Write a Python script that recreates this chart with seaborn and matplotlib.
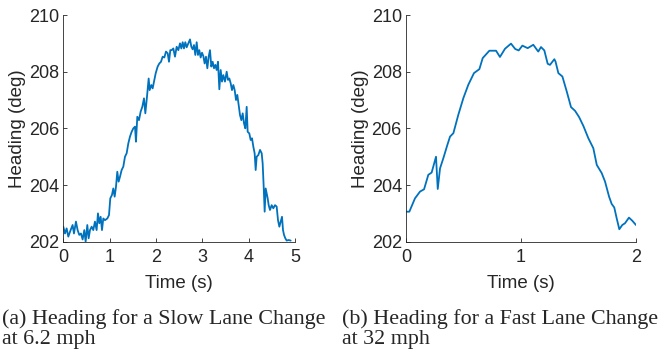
import numpy as np
import pandas as pd
import matplotlib
matplotlib.use("Agg")
from matplotlib import pyplot as plt
import seaborn as sns

# slow lane change (6.2 mph)
slow_t = [0, 0.036, 0.072, 0.108, 0.158, 0.201, 0.23, 0.273, 0.309, 0.345, 0.381, 0.417,
          0.453, 0.482, 0.518, 0.547, 0.576, 0.612, 0.647, 0.683, 0.719, 0.748, 0.777,
          0.806, 0.835, 0.863, 0.899, 0.95, 0.986, 1.014, 1.05, 1.079, 1.108, 1.137,
          1.165, 1.194, 1.223, 1.259, 1.295, 1.331, 1.367, 1.403, 1.439, 1.475, 1.511,
          1.547, 1.568, 1.597, 1.633, 1.669, 1.705, 1.741, 1.77, 1.806, 1.842, 1.863,
          1.899, 1.928, 1.957, 1.993, 2.036, 2.072, 2.108, 2.144, 2.18, 2.216, 2.252,
          2.281, 2.309, 2.338, 2.374, 2.41, 2.446, 2.482, 2.518, 2.547, 2.576, 2.604,
          2.633, 2.662, 2.698, 2.734, 2.763, 2.791, 2.82, 2.849, 2.878, 2.906, 2.935,
          2.964, 2.993, 3.022, 3.05, 3.079, 3.108, 3.137, 3.165, 3.194, 3.223, 3.252,
          3.281, 3.309, 3.338, 3.367, 3.396, 3.424, 3.453, 3.489, 3.525, 3.554, 3.583,
          3.612, 3.64, 3.669, 3.698, 3.727, 3.755, 3.784, 3.813, 3.842, 3.871, 3.899,
          3.928, 3.957, 3.978, 4.014, 4.043, 4.072, 4.101, 4.129, 4.151, 4.173, 4.209,
          4.245, 4.281, 4.302, 4.324, 4.345, 4.367, 4.388, 4.41, 4.432, 4.46, 4.496,
          4.532, 4.568, 4.604, 4.633, 4.662, 4.691, 4.719, 4.741, 4.763, 4.791, 4.82,
          4.863, 4.906]
slow_h = [202.53, 202.29, 202.47, 202.18, 202.41, 202.59, 202.29, 202.71, 202.41, 202.24,
          202.29, 202.08, 202.41, 202.0, 202.59, 202.12, 202.41, 202.53, 202.41, 202.71,
          202.41, 203.0, 202.65, 202.88, 202.41, 202.82, 202.76, 202.82, 202.94, 203.53,
          203.65, 203.88, 203.59, 203.94, 204.47, 204.12, 204.29, 204.53, 204.65, 205.0,
          205.12, 205.47, 205.71, 205.88, 206.0, 206.06, 205.53, 206.41, 206.29, 206.59,
          206.76, 207.06, 206.53, 207.12, 207.76, 207.35, 207.53, 207.41, 207.65, 207.94,
          208.18, 208.29, 208.35, 208.53, 208.5, 208.71, 208.65, 208.35, 208.76, 208.76,
          208.82, 208.53, 208.88, 208.76, 209.0, 208.82, 209.04, 208.82, 209.04, 208.86,
          209.0, 209.14, 208.88, 208.79, 208.94, 208.59, 209.04, 208.59, 208.76, 208.5,
          208.67, 208.55, 208.29, 208.53, 208.12, 208.53, 208.76, 208.18, 208.35, 208.12,
          208.24, 208.06, 208.35, 207.38, 208.06, 207.65, 207.88, 207.65, 208.0, 207.71,
          207.76, 207.59, 207.35, 207.53, 207.35, 207.0, 207.18, 206.82, 206.47, 206.29,
          206.53, 206.18, 206.0, 206.76, 205.88, 205.82, 205.59, 205.65, 205.35, 205.12,
          204.53, 205.0, 205.06, 205.24, 205.12, 204.76, 203.94, 203.06, 203.88, 203.71,
          203.53, 203.29, 203.12, 203.29, 203.18, 203.29, 203.24, 202.76, 202.53, 202.71,
          202.88, 202.41, 202.24, 202.12, 202.04, 202.06, 202.04]

# fast lane change (32 mph)
fast_t = [0, 0.029, 0.078, 0.122, 0.157, 0.194, 0.223, 0.261, 0.276, 0.296, 0.325, 0.36,
          0.383, 0.412, 0.455, 0.499, 0.542, 0.591, 0.638, 0.667, 0.725, 0.783, 0.817,
          0.861, 0.913, 0.95, 0.98, 1.012, 1.058, 1.107, 1.15, 1.174, 1.203, 1.232,
          1.252, 1.29, 1.30, 1.325, 1.36, 1.398, 1.435, 1.47, 1.505, 1.542, 1.586,
          1.629, 1.659, 1.702, 1.731, 1.766, 1.789, 1.811, 1.832, 1.855, 1.881, 1.904,
          1.939, 1.968, 2.0]
fast_h = [203.06, 203.06, 203.53, 203.77, 203.85, 204.36, 204.44, 205.0, 203.86, 204.59,
          204.95, 205.42, 205.71, 205.83, 206.48, 207.07, 207.54, 207.95, 208.09, 208.48,
          208.74, 208.74, 208.52, 208.81, 208.99, 208.8, 208.75, 208.92, 208.83, 208.95,
          208.71, 208.87, 208.75, 208.28, 208.24, 208.44, 208.36, 207.95, 207.83, 207.3,
          206.75, 206.62, 206.4, 206.09, 205.65, 205.3, 204.71, 204.42, 204.12, 203.59,
          203.33, 203.21, 202.83, 202.44, 202.59, 202.65, 202.85, 202.74, 202.59]

captions = ["(a) Heading for a Slow Lane Change\nat 6.2 mph",
            "(b) Heading for a Fast Lane Change\nat 32 mph"]

sns.set_style("ticks", {"xtick.direction": "in", "ytick.direction": "in"})
plt.rcParams['font.family'] = ['Liberation Sans', 'DejaVu Sans']

fig = plt.figure(figsize=(6.67, 3.5), dpi=100)
ax1 = fig.add_axes([0.0949, 0.3094, 0.3474, 0.6477])
ax2 = fig.add_axes([0.6087, 0.3094, 0.3448, 0.6477])

blue = "#0072BD"
sns.lineplot(x=slow_t, y=slow_h, ax=ax1, color=blue, linewidth=1.3, sort=False)
sns.lineplot(x=fast_t, y=fast_h, ax=ax2, color=blue, linewidth=1.3, sort=False)

for ax, xmax, xt in [(ax1, 5, [0, 1, 2, 3, 4, 5]), (ax2, 2, [0, 1, 2])]:
    ax.set_xlim(0, xmax)
    ax.set_ylim(202, 210)
    ax.set_xticks(xt)
    ax.set_yticks([202, 204, 206, 208, 210])
    ax.tick_params(labelsize=13, length=3, width=0.6, colors="#262626", pad=3)
    ax.tick_params(axis="x", pad=5)
    ax.set_xlabel("Time (s)", fontsize=13.5, color="#262626", labelpad=7)
    ax.set_ylabel("Heading (deg)", fontsize=13.5, color="#262626", labelpad=2)
    for s in ["left", "bottom"]:
        ax.spines[s].set_linewidth(0.6)
        ax.spines[s].set_color("#262626")
    sns.despine(ax=ax)

fig.text(0.003, 0.003, captions[0], family=['Liberation Serif'], fontsize=15.8,
         ha="left", va="bottom", linespacing=1.1)
fig.text(0.513, 0.003, captions[1], family=['Liberation Serif'], fontsize=15.8,
         ha="left", va="bottom", linespacing=1.1)

fig.savefig("out.png", dpi=100)
